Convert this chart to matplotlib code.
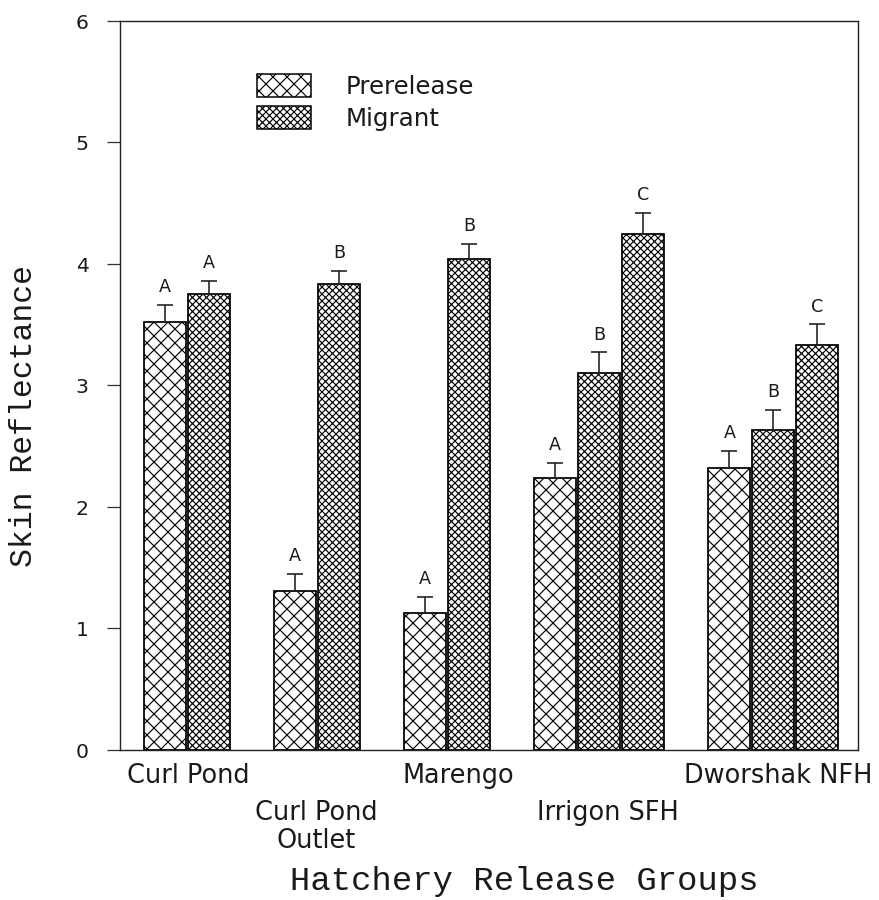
import matplotlib
matplotlib.use('Agg')
import matplotlib.pyplot as plt
from matplotlib.patches import Patch

# ---------------- data ----------------
groups = ['Curl Pond', 'Curl Pond\nOutlet', 'Marengo', 'Irrigon SFH', 'Dworshak NFH']
prerelease = [3.52, 1.31, 1.13, 2.24, 2.32]
prerelease_err = [0.14, 0.14, 0.13, 0.12, 0.14]
prerelease_letters = ['A', 'A', 'A', 'A', 'A']
migrant = [[3.75], [3.83], [4.04], [3.10, 4.24], [2.63, 3.33]]
migrant_err = [[0.11], [0.11], [0.12], [0.17, 0.18], [0.17, 0.17]]
migrant_letters = [['A'], ['B'], ['B'], ['B', 'C'], ['B', 'C']]
yticks = [0, 1, 2, 3, 4, 5, 6]

# ---------------- style ----------------
DPI = 84
PT = 72 / DPI  # points per pixel
HATCH_PRE, HATCH_MIG = 'xx', 'xxxx'
plt.rcParams['hatch.linewidth'] = 1.0
TXT = '#1a1a1a'
fig = plt.figure(figsize=(879.5 / DPI, 900.5 / DPI), dpi=DPI)
ax = fig.add_axes([120 / 879, 1 - 750 / 900, (858 - 120) / 879, (750 - 21) / 900])

W, GAP, GGAP = 42, 2, 44   # layout in pixel-like x units
x = 0
centers = []
err_kw = dict(ecolor='#222222', elinewidth=1.4, capsize=7, capthick=1.4)
for i, g in enumerate(groups):
    xs = []
    ax.bar(x, prerelease[i], width=W, align='edge', facecolor='white', edgecolor='black',
           linewidth=1.5, hatch=HATCH_PRE, zorder=2)
    ax.errorbar(x + W / 2, prerelease[i], yerr=[[0], [prerelease_err[i]]], fmt='none', zorder=3, **err_kw)
    ax.annotate(prerelease_letters[i], (x + W / 2, prerelease[i] + prerelease_err[i]),
                xytext=(0, 8), textcoords='offset points', ha='center', va='bottom',
                fontsize=15, color=TXT)
    xs.append(x)
    x += W + GAP
    for v, e, l in zip(migrant[i], migrant_err[i], migrant_letters[i]):
        ax.bar(x, v, width=W, align='edge', facecolor='white', edgecolor='black',
               linewidth=1.5, hatch=HATCH_MIG, zorder=2)
        ax.errorbar(x + W / 2, v, yerr=[[0], [e]], fmt='none', zorder=3, **err_kw)
        ax.annotate(l, (x + W / 2, v + e), xytext=(0, 8), textcoords='offset points',
                    ha='center', va='bottom', fontsize=15, color=TXT)
        xs.append(x)
        x += W + GAP
    x -= GAP
    centers.append((xs[0] + x) / 2)
    x += GGAP

ax.set_xlim(-24, x - GGAP + 20)
ax.set_ylim(0, 6)
ax.set_yticks(yticks)
ax.set_yticklabels([str(t) for t in yticks], fontsize=17.5, color=TXT)
ax.tick_params(axis='y', direction='out', length=11, width=1.1, pad=16, color='#333333')
ax.set_xticks([])
for s in ax.spines.values():
    s.set_linewidth(1.2)
    s.set_color('#222222')

# staggered group labels
label_dx = [1, -1, 11, 9, 5]
label_dy = [-13, -50, -13, -50, -13]
for i, g in enumerate(groups):
    ax.annotate(g, (centers[i], 0), xycoords=('data', 'axes fraction'),
                xytext=(label_dx[i] * PT, label_dy[i] * PT), textcoords='offset points',
                ha='center', va='top', fontsize=22, color=TXT, linespacing=1.08)

fig.text(524 / 879, 1 - 881 / 900, 'Hatchery Release Groups', ha='center', va='center',
         fontsize=29, family='Liberation Mono', color=TXT)
fig.text(24 / 879, 1 - 416 / 900, 'Skin Reflectance', ha='center', va='center',
         rotation=90, fontsize=27, family='Liberation Mono', color=TXT)

FS_LEG = 21
em = FS_LEG / PT
handles = [Patch(facecolor='white', edgecolor='black', hatch=HATCH_PRE, linewidth=1.3, label='Prerelease'),
           Patch(facecolor='white', edgecolor='black', hatch=HATCH_MIG, linewidth=1.3, label='Migrant')]
leg = ax.legend(handles=handles, loc='upper left',
                bbox_to_anchor=((257 - 120) / 738, (750 - 74) / 729),
                frameon=False, fontsize=FS_LEG, handlelength=54 / em, handleheight=27 / em,
                labelspacing=7 / em, handletextpad=34 / em, borderpad=0, borderaxespad=0)
for t in leg.get_texts():
    t.set_color(TXT)

fig.savefig('out.png', dpi=DPI)
